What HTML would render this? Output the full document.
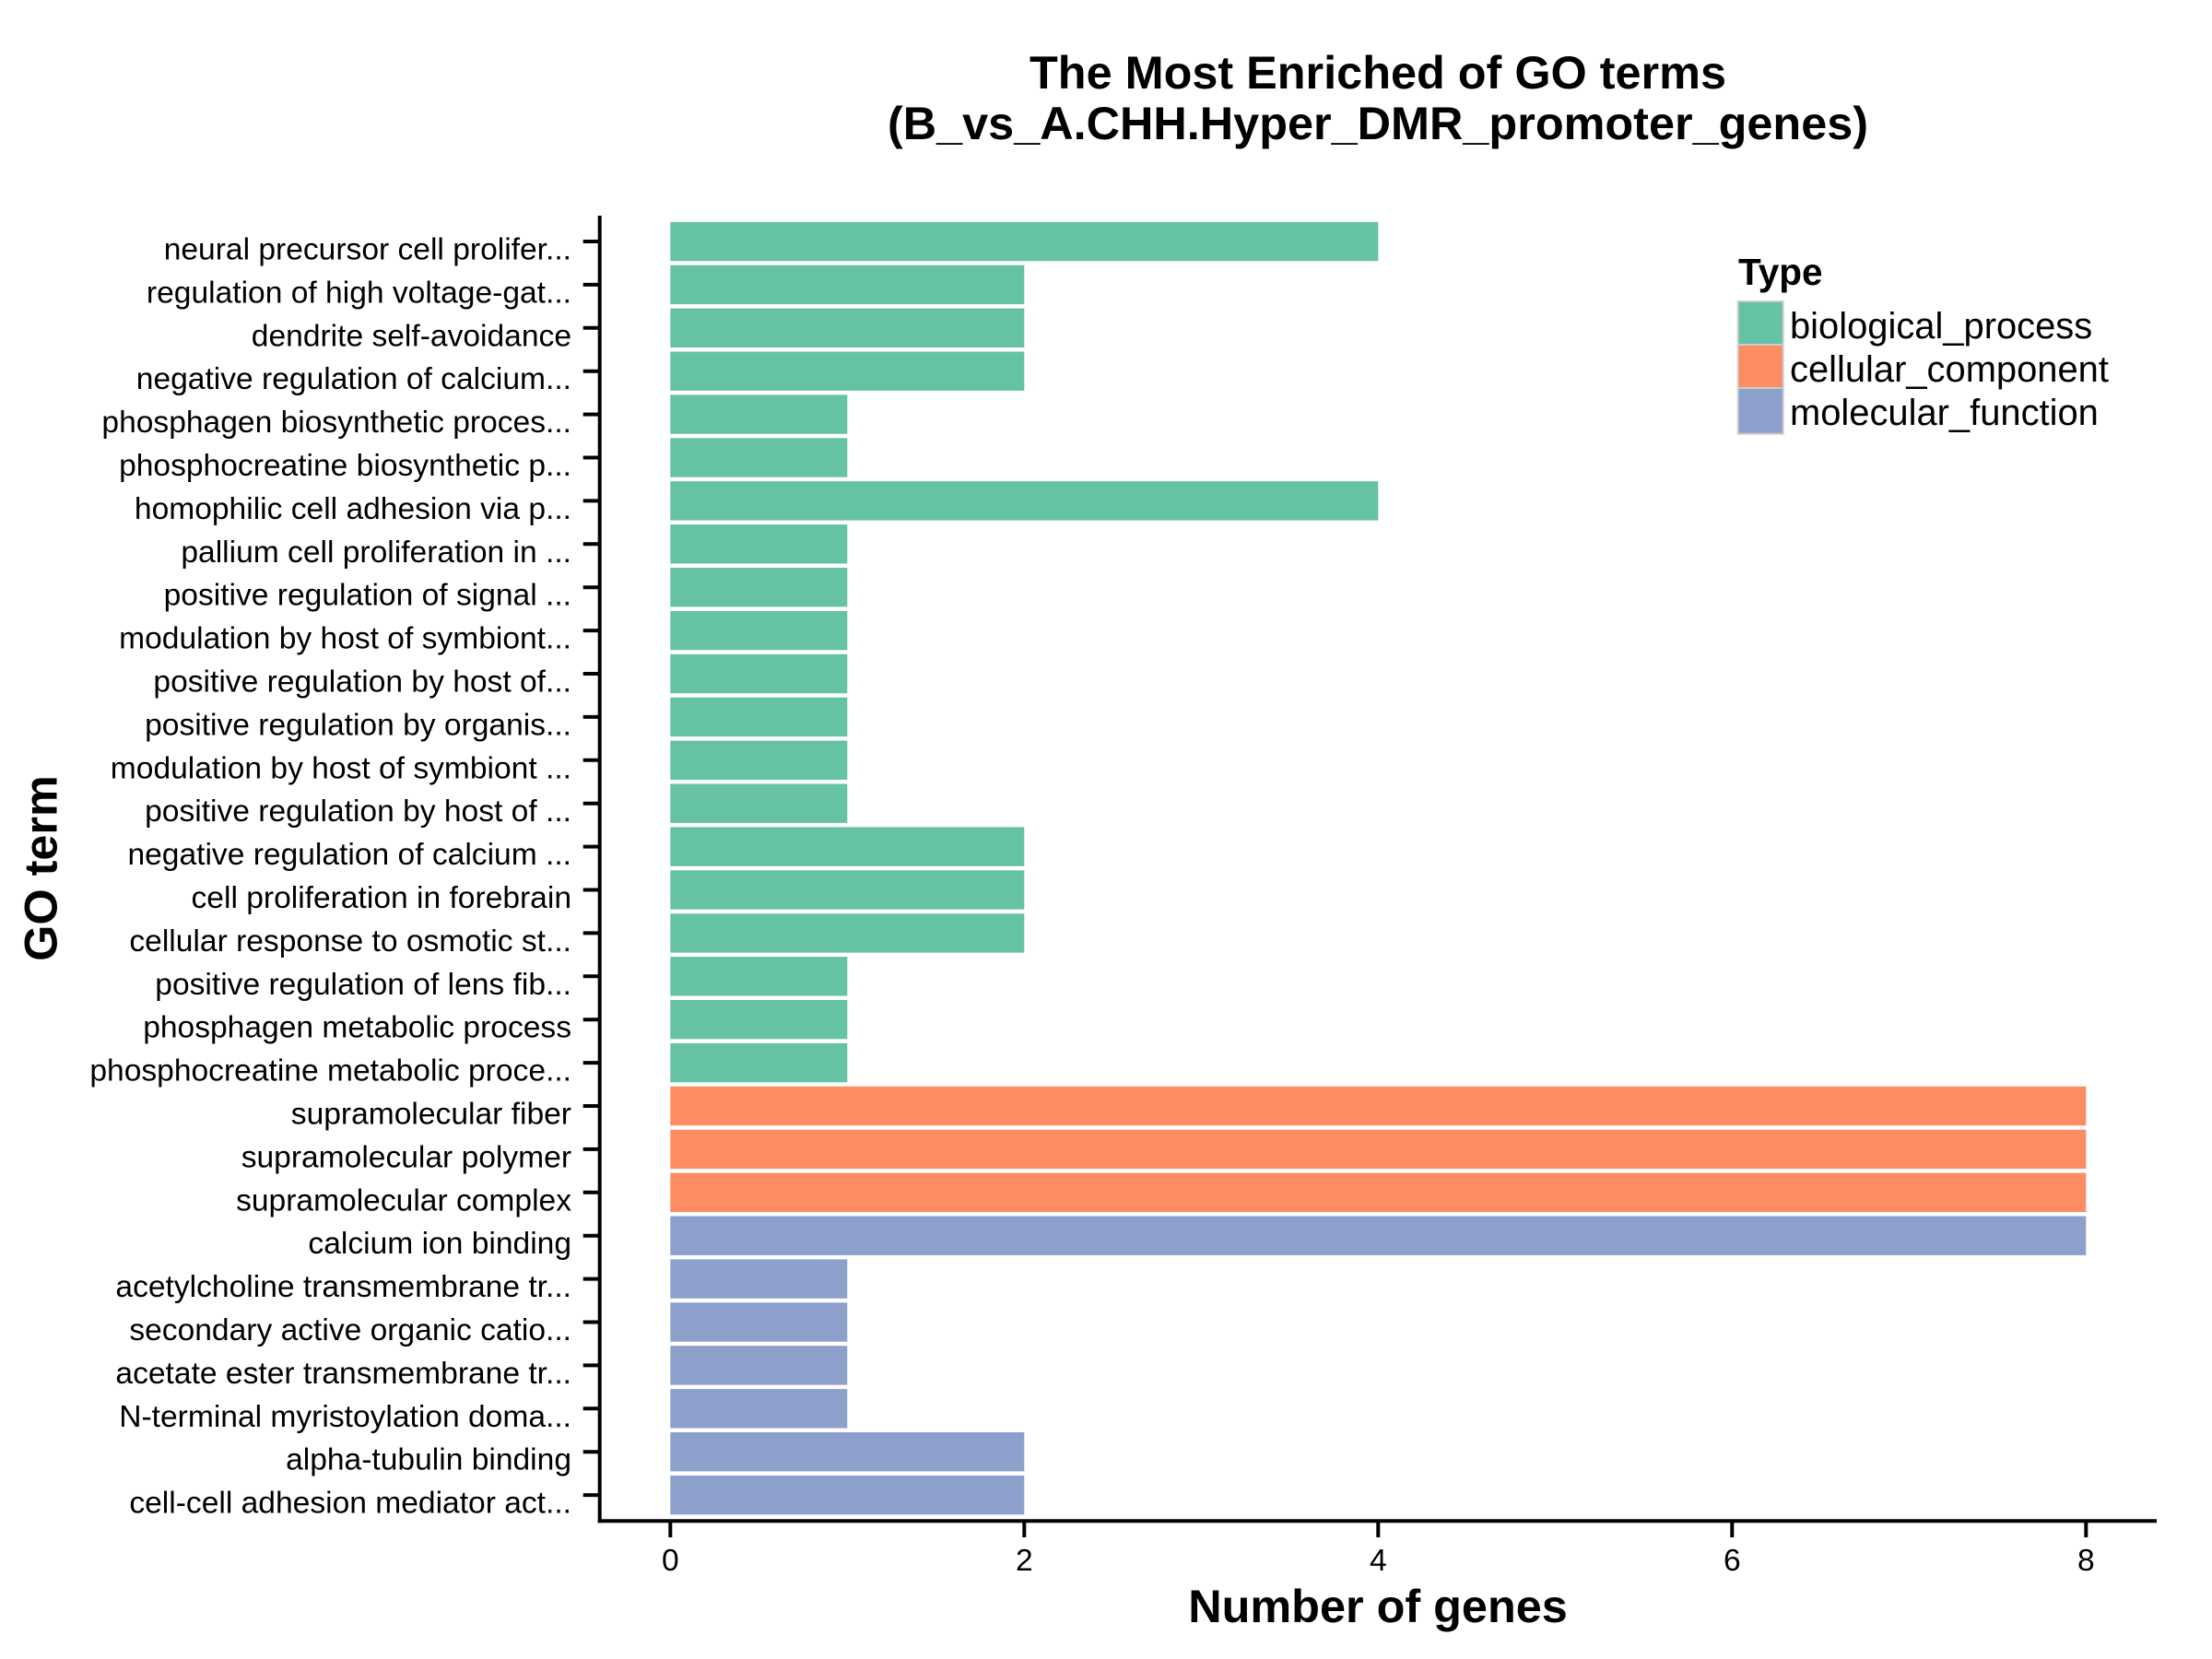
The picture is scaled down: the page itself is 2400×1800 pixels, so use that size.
<!DOCTYPE html>
<html lang="en">
<head>
<meta charset="utf-8">
<title>The Most Enriched of GO terms</title>
<style>
html,body{margin:0;padding:0;background:#fff;width:2400px;height:1800px;overflow:hidden}
svg{display:block}
text{font-family:"Liberation Sans",Arial,Helvetica,sans-serif;fill:#000}
.title{font-size:50.4px;font-weight:bold;text-anchor:middle}
.axis-title{font-size:50.4px;font-weight:bold;text-anchor:middle}
.tick-label{font-size:33.6px}
.legend-text{font-size:39.9px}
</style>
</head>
<body>
<svg id="chart" xmlns="http://www.w3.org/2000/svg" width="2400" height="1800" viewBox="0 0 2400 1800">
  <rect x="0" y="0" width="2400" height="1800" fill="#fff"/>
  <text class="title" x="1495" y="96">The Most Enriched of GO terms</text>
  <text class="title" x="1495" y="151">(B_vs_A.CHH.Hyper_DMR_promoter_genes)</text>
  <g id="bars"></g>
  <g id="y-ticks"></g>
  <g id="x-ticks"></g>
  <line x1="650.7" y1="234" x2="650.7" y2="1652.3" stroke="#000" stroke-width="4"/>
  <line x1="648.7" y1="1650.3" x2="2340" y2="1650.3" stroke="#000" stroke-width="4"/>
  <text class="axis-title" x="1495" y="1760">Number of genes</text>
  <text class="axis-title" transform="translate(61.5,942) rotate(-90)" x="0" y="0">GO term</text>
  <g id="legend">
    <text x="1886" y="309" font-size="40.5" font-weight="bold">Type</text>
    <rect x="1885.7" y="327" width="49" height="47" fill="#66c2a5" stroke="#cccccc" stroke-width="2"/>
    <text class="legend-text" x="1942" y="367">biological_process</text>
    <rect x="1885.7" y="374" width="49" height="47" fill="#fc8d62" stroke="#cccccc" stroke-width="2"/>
    <text class="legend-text" x="1942" y="414">cellular_component</text>
    <rect x="1885.7" y="421" width="49" height="49.7" fill="#8da0cb" stroke="#cccccc" stroke-width="2"/>
    <text class="legend-text" x="1942" y="461">molecular_function</text>
  </g>
</svg>
<script>
const categories = [
  "neural precursor cell prolifer...",
  "regulation of high voltage-gat...",
  "dendrite self-avoidance",
  "negative regulation of calcium...",
  "phosphagen biosynthetic proces...",
  "phosphocreatine biosynthetic p...",
  "homophilic cell adhesion via p...",
  "pallium cell proliferation in ...",
  "positive regulation of signal ...",
  "modulation by host of symbiont...",
  "positive regulation by host of...",
  "positive regulation by organis...",
  "modulation by host of symbiont ...",
  "positive regulation by host of ...",
  "negative regulation of calcium ...",
  "cell proliferation in forebrain",
  "cellular response to osmotic st...",
  "positive regulation of lens fib...",
  "phosphagen metabolic process",
  "phosphocreatine metabolic proce...",
  "supramolecular fiber",
  "supramolecular polymer",
  "supramolecular complex",
  "calcium ion binding",
  "acetylcholine transmembrane tr...",
  "secondary active organic catio...",
  "acetate ester transmembrane tr...",
  "N-terminal myristoylation doma...",
  "alpha-tubulin binding",
  "cell-cell adhesion mediator act..."
];
const geneCounts = [4,2,2,2,1,1,4,1,1,1,1,1,1,1,2,2,2,1,1,1,8,8,8,8,1,1,1,1,2,2];
const termTypes = [
  "biological_process","biological_process","biological_process","biological_process","biological_process",
  "biological_process","biological_process","biological_process","biological_process","biological_process",
  "biological_process","biological_process","biological_process","biological_process","biological_process",
  "biological_process","biological_process","biological_process","biological_process","biological_process",
  "cellular_component","cellular_component","cellular_component",
  "molecular_function","molecular_function","molecular_function","molecular_function","molecular_function","molecular_function","molecular_function"
];
const xTickValues = [0,2,4,6,8];
const typeColors = {biological_process:"#66c2a5", cellular_component:"#fc8d62", molecular_function:"#8da0cb"};

const SVGNS = "http://www.w3.org/2000/svg";
const xScale = function (v) { return 727.3 + v * 192; };
const bandStep = 46.9;
const bandHeight = 42.4;
const yScale = function (i) { return 262 + i * bandStep; };

function make(tag, attrs) {
  const el = document.createElementNS(SVGNS, tag);
  Object.keys(attrs).forEach(function (k) { el.setAttribute(k, attrs[k]); });
  return el;
}
function slug(s) {
  return s.toLowerCase().replace(/[^a-z0-9]+/g, "-").replace(/^-|-$/g, "");
}

const barsG = document.getElementById("bars");
const yTicksG = document.getElementById("y-ticks");
const xTicksG = document.getElementById("x-ticks");

categories.forEach(function (cat, i) {
  const cy = yScale(i);
  const bar = make("rect", {
    x: xScale(0),
    y: cy - bandHeight / 2,
    width: xScale(geneCounts[i]) - xScale(0),
    height: bandHeight,
    fill: typeColors[termTypes[i]]
  });
  
  
  barsG.appendChild(bar);

  const tick = make("line", { x1: 632.7, x2: 650.7, y1: cy, y2: cy, stroke: "#000", "stroke-width": 4 });
  
  
  yTicksG.appendChild(tick);

  const label = make("text", { x: 620, y: cy + 19.5, "text-anchor": "end", "class": "tick-label" });
  label.textContent = cat;
  
  
  yTicksG.appendChild(label);
});

xTickValues.forEach(function (v) {
  const tick = make("line", { x1: xScale(v), x2: xScale(v), y1: 1650.3, y2: 1668, stroke: "#000", "stroke-width": 4 });
  
  
  xTicksG.appendChild(tick);

  const label = make("text", { x: xScale(v), y: 1704, "text-anchor": "middle", "class": "tick-label" });
  label.textContent = String(v);
  
  
  xTicksG.appendChild(label);
});
</script>
</body>
</html>
